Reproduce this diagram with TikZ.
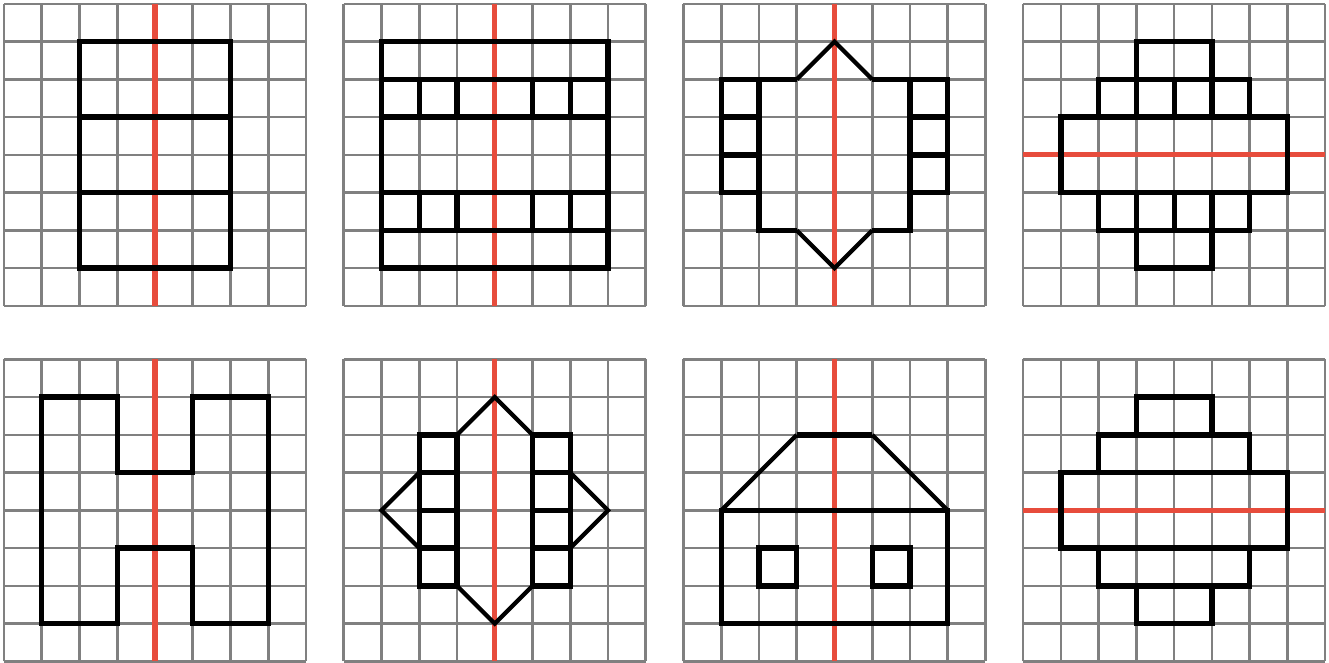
\documentclass[tikz,border=0pt]{standalone}
\usepackage{tikz}
\definecolor{grey500}{HTML}{808080}
\definecolor{red500} {HTML}{E74C3C}
\tikzset{
  cellgrid/.style ={draw=grey500, line width=1.9pt},
  mirror/.style   ={draw=red500, line width=3.8pt},
  outl/.style     ={draw=black, line width=4.1pt},
  slant/.style    ={draw=black, line width=3.2pt}
}

\begin{document}
\begin{tikzpicture}
\useasboundingbox (-0.106,-0.04) rectangle (35.1,17.52);
\foreach \px/\py in {0/9.417, 9/9.417, 18/9.417, 27/9.417,
                     0/0, 9/0, 18/0, 27/0}
  \draw[cellgrid, shift={(\px,\py)}] (0,0) grid (8,8);

% top row
\begin{scope}[shift={(0,9.417)}]
\draw[mirror] (4,0) -- (4,8);
\draw[outl] (2,1) rectangle (6,7) (2,3) -- (6,3) (2,5) -- (6,5);
\end{scope}

\begin{scope}[shift={(9,9.417)}]
\draw[mirror] (4,0) -- (4,8);
\draw[outl] (1,1) rectangle (7,7) (1,2) -- (7,2) (1,3) -- (7,3)
  (1,5) -- (7,5) (1,6) -- (7,6);
\foreach \x in {2,3,5,6}
  \draw[outl] (\x,2) -- (\x,3) (\x,5) -- (\x,6);
\end{scope}

\begin{scope}[shift={(18,9.417)}]
\draw[mirror] (4,0) -- (4,8);
\draw[outl] (1,3) rectangle (2,6) (1,4) -- (2,4) (1,5) -- (2,5);
\draw[outl] (6,3) rectangle (7,6) (6,4) -- (7,4) (6,5) -- (7,5);
\draw[outl] (3,6) -- (2,6) -- (2,2) -- (3,2) (5,2) -- (6,2) -- (6,6) -- (5,6);
\draw[slant] (3,6) -- (4,7) -- (5,6) (3,2) -- (4,1) -- (5,2);
\end{scope}

\begin{scope}[shift={(27,9.417)}]
\draw[mirror] (0,4) -- (8,4);
\draw[outl] (3,6) rectangle (5,7) (2,5) rectangle (6,6) (1,3) rectangle (7,5)
  (2,2) rectangle (6,3) (3,1) rectangle (5,2);
\foreach \x in {3,4,5}
  \draw[outl] (\x,5) -- (\x,6) (\x,2) -- (\x,3);
\end{scope}

% bottom row
\begin{scope}[shift={(0,0)}]
\draw[mirror] (4,0) -- (4,8);
\draw[outl] (1,1) -- (1,7) -- (3,7) -- (3,5) -- (5,5) -- (5,7) -- (7,7)
  -- (7,1) -- (5,1) -- (5,3) -- (3,3) -- (3,1) -- cycle;
\end{scope}

\begin{scope}[shift={(9,0)}]
\draw[mirror] (4,0) -- (4,8);
\draw[outl] (2,2) rectangle (3,6) (5,2) rectangle (6,6);
\foreach \y in {3,4,5}
  \draw[outl] (2,\y) -- (3,\y) (5,\y) -- (6,\y);
\draw[slant] (3,6) -- (4,7) -- (5,6) (3,2) -- (4,1) -- (5,2)
  (2,5) -- (1,4) -- (2,3) (6,5) -- (7,4) -- (6,3);
\end{scope}

\begin{scope}[shift={(18,0)}]
\draw[mirror] (4,0) -- (4,8);
\draw[outl] (1,1) rectangle (7,4) (2,2) rectangle (3,3) (5,2) rectangle (6,3)
  (3,6) -- (5,6);
\draw[slant] (1,4) -- (3,6) (5,6) -- (7,4);
\end{scope}

\begin{scope}[shift={(27,0)}]
\draw[mirror] (0,4) -- (8,4);
\draw[outl] (3,6) rectangle (5,7) (2,5) rectangle (6,6) (1,3) rectangle (7,5)
  (2,2) rectangle (6,3) (3,1) rectangle (5,2);
\end{scope}
\end{tikzpicture}
\end{document}
